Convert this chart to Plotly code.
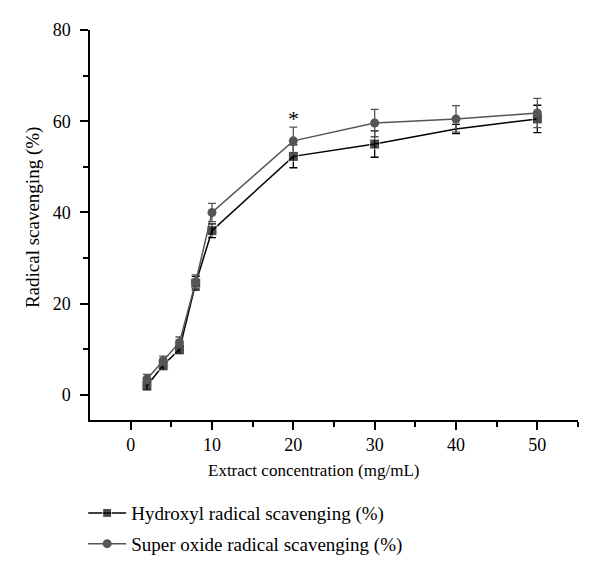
import plotly.graph_objects as go

conc = [2, 4, 6, 8, 10, 20, 30, 40, 50]
hydroxyl = [2.0, 6.5, 10.0, 24.5, 36.0, 52.3, 55.0, 58.3, 60.5]
hydroxyl_err = [1.0, 1.0, 1.0, 1.5, 1.5, 2.5, 2.9, 1.0, 3.0]
superoxide = [3.5, 7.5, 11.5, 24.8, 40.0, 55.7, 59.6, 60.5, 61.8]
superoxide_err = [1.0, 1.0, 1.2, 1.5, 2.0, 3.0, 3.0, 2.9, 3.2]
x_ticks = [0, 10, 20, 30, 40, 50]
y_ticks = [0, 20, 40, 60, 80]
name_h = "Hydroxyl radical scavenging (%)"
name_s = "Super oxide radical scavenging (%)"
star_x, star_y = 20, 60.7

FONT = "Liberation Serif"
fig = go.Figure()
fig.add_trace(go.Scatter(
    x=conc, y=hydroxyl, name=name_h, mode="lines+markers", legendgroup="h",
    line=dict(color="#000000", width=1.5),
    marker=dict(symbol="square", size=[10, 10, 10, 10, 10, 10, 10, 0, 10], color="#000000"),
    error_y=dict(type="data", array=hydroxyl_err, color="#000000", thickness=1.3, width=4),
))
fig.add_trace(go.Scatter(
    x=conc, y=superoxide, name=name_s, mode="lines+markers", legendgroup="s",
    line=dict(color="#555555", width=1.5),
    marker=dict(symbol="circle", size=9, color="#555555"),
    error_y=dict(type="data", array=superoxide_err, color="#555555", thickness=1.3, width=4),
))
fig.add_annotation(x=star_x, y=star_y, text="*", showarrow=False,
                   font=dict(family=FONT, size=22, color="#000"), yanchor="bottom", yshift=-15)
fig.add_annotation(xref="paper", yref="paper", x=0.459, y=-0.13, text="Extract concentration (mg/mL)",
                   showarrow=False, font=dict(family=FONT, size=17, color="#000"), yanchor="middle")
fig.add_annotation(xref="paper", yref="paper", x=-0.117, y=0.52, text="Radical scavenging (%)",
                   showarrow=False, textangle=-90, font=dict(family=FONT, size=19, color="#000"),
                   xanchor="center", yanchor="middle")
fig.update_layout(
    width=600, height=578,
    margin=dict(l=82, r=30, t=22, b=166),
    plot_bgcolor="white", paper_bgcolor="white",
    font=dict(family=FONT, size=18, color="#000"),
    showlegend=True,
    legend=dict(x=-0.014, y=-0.19, xanchor="left", yanchor="top", traceorder="grouped",
                font=dict(family=FONT, size=19), bgcolor="rgba(0,0,0,0)",
                itemwidth=38, tracegroupgap=3),
    xaxis=dict(range=[-5, 55], tickvals=x_ticks, showline=True, linecolor="#000", linewidth=1.5,
               ticks="outside", ticklen=8, tickwidth=1.5, tickcolor="#000", showgrid=False,
               zeroline=False, mirror=False,
               minor=dict(tickvals=[5, 15, 25, 35, 45, 55], ticks="outside", ticklen=5, tickwidth=1.5, tickcolor="#000")),
    yaxis=dict(range=[-5.5, 80], tickvals=y_ticks, showline=True, linecolor="#000", linewidth=1.5,
               ticks="outside", ticklen=8, tickwidth=1.5, tickcolor="#000", showgrid=False,
               zeroline=False, ticklabelstandoff=6,
               minor=dict(tickvals=[10, 30, 50, 70], ticks="outside", ticklen=5, tickwidth=1.5, tickcolor="#000")),
)
fig.write_html("out.html")
